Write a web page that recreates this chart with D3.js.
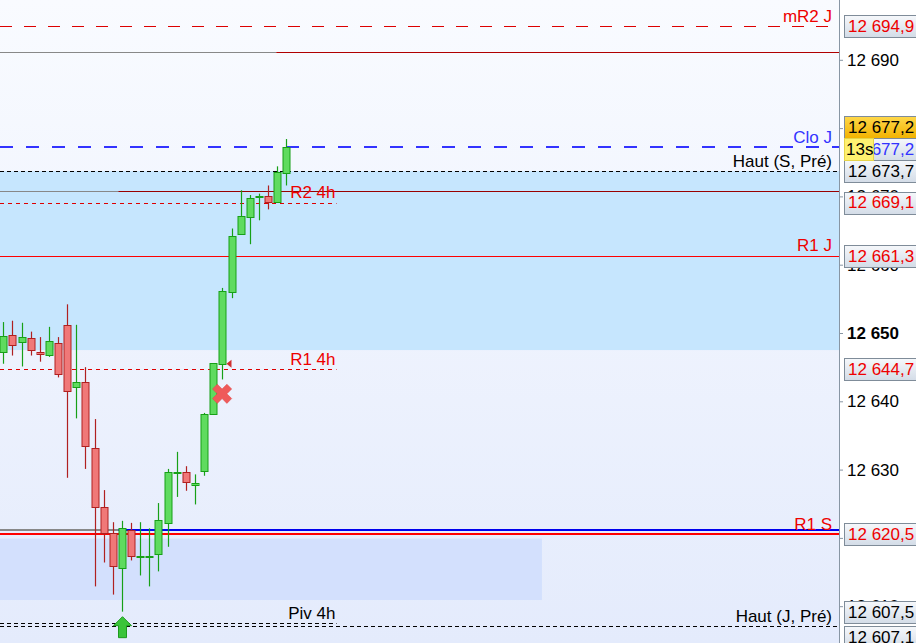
<!DOCTYPE html>
<html>
<head>
<meta charset="utf-8">
<script src="https://cdn.jsdelivr.net/npm/d3@7"></script>
<style>
  body { margin: 0; background: #fff; }
  svg text { font-family: "Liberation Sans", Arial, sans-serif; }
</style>
</head>
<body>
<div id="container"></div>
<script>

// candle data (oldest -> newest)
const opens  = [12647.2, 12649.7, 12648.6, 12649.2, 12647.2, 12646.9, 12648.6, 12651.1, 12642.0, 12642.8, 12633.1, 12624.5, 12620.7, 12615.7, 12621.2, 12617.2,
                12617.3, 12617.6, 12622.2, 12629.5, 12629.6, 12627.8, 12629.7, 12638.1, 12645.4, 12656.0, 12664.5, 12666.9, 12669.8, 12670.0, 12669.1, 12673.4];
const highs  = [12651.6, 12651.8, 12651.5, 12650.2, 12649.4, 12650.9, 12649.4, 12654.2, 12651.2, 12645.0, 12637.4, 12627.0, 12622.3, 12622.5, 12622.2, 12622.3,
                12621.4, 12625.1, 12630.1, 12632.6, 12630.5, 12629.3, 12638.3, 12645.6, 12656.6, 12665.3, 12670.9, 12670.2, 12670.4, 12671.6, 12674.4, 12678.4];
const lows   = [12645.5, 12646.7, 12645.1, 12646.7, 12645.8, 12646.5, 12643.5, 12628.8, 12637.5, 12630.1, 12612.9, 12616.4, 12611.7, 12609.2, 12616.7, 12614.5,
                12612.9, 12615.1, 12618.7, 12626.0, 12626.9, 12624.9, 12629.1, 12638.0, 12643.2, 12655.1, 12664.5, 12663.0, 12666.5, 12668.1, 12669.1, 12671.6];
const closes = [12649.5, 12648.3, 12649.4, 12647.5, 12646.9, 12648.9, 12644.0, 12641.5, 12642.8, 12633.4, 12624.5, 12620.7, 12615.8, 12621.5, 12617.4, 12617.4,
                12617.4, 12622.6, 12629.6, 12629.7, 12628.1, 12628.1, 12638.1, 12645.6, 12656.1, 12664.2, 12667.1, 12669.7, 12670.0, 12669.1, 12673.5, 12677.2];

// horizontal levels
const levelNames  = ["mR2 J", "", "Clo J", "Haut (S, Pré)", "", "R2 4h", "R1 J", "R1 4h", "", "R1 S", "Piv 4h", "Haut (J, Pré)"];
const levelValues = [12694.9, 12691.1, 12677.2, 12673.7, 12670.8, 12669.1, 12661.3, 12644.7, 12621.2, 12620.5, 12607.5, 12607.1];
// bar index where a level changes colour / ends (null = whole chart)
const levelSwitch = [null, 29.9, null, null, 12.6, null, null, null, 12.6, null, null, null];
const levelEnd    = [null, null, null, null, null, 36.5, null, 36.5, null, null, 36.5, null];

// zones
const zoneTops    = [12673.7, 12619.9];
const zoneBottoms = [12647.5, 12610.9];
const zoneEnds    = [null, 59];

// price axis
const tickValues = [12610, 12620, 12630, 12640, 12650, 12660, 12670, 12680, 12690];
const boxValues  = [12694.9, 12677.2, 12677.2, 12673.7, 12669.1, 12661.3, 12644.7, 12620.5, 12607.5, 12607.1];
const countdown  = "13s";

const W = 916, H = 643, plotW = 839;

const svg = d3.select("#container").append("svg")
  .attr("width", W)
  .attr("height", H);

const defs = svg.append("defs");
const bg = defs.append("linearGradient").attr("id", "bg").attr("x1", 0).attr("y1", 0).attr("x2", 0).attr("y2", 1);
bg.append("stop").attr("offset", "0%").attr("stop-color", "#f9fbff");
bg.append("stop").attr("offset", "100%").attr("stop-color", "#e4ebfc");
const boxGrad = defs.append("linearGradient").attr("id", "boxg").attr("x1", 0).attr("y1", 0).attr("x2", 0).attr("y2", 1);
boxGrad.append("stop").attr("offset", "0%").attr("stop-color", "#f6f8fb");
boxGrad.append("stop").attr("offset", "100%").attr("stop-color", "#d3dce7");
const goldGrad = defs.append("linearGradient").attr("id", "gold").attr("x1", 0).attr("y1", 0).attr("x2", 0).attr("y2", 1);
goldGrad.append("stop").attr("offset", "0%").attr("stop-color", "#ffd84a");
goldGrad.append("stop").attr("offset", "100%").attr("stop-color", "#f2b200");
defs.append("clipPath").attr("id", "plotclip")
  .append("rect").attr("width", plotW).attr("height", H);

// scales
const y = d3.scaleLinear().domain([12600, 12700]).range([674.5, -8.5]);
const x = d3.scaleLinear().domain([0, 31]).range([3.3, 286.3]);

const loc = d3.formatLocale({decimal: ",", thousands: " ", grouping: [3], currency: ["", ""]});
const fmtTick = loc.format(",d");
const fmtBox = loc.format(",.1f");

// backgrounds
svg.append("rect").attr("width", plotW).attr("height", H).attr("fill", "url(#bg)");
svg.append("rect").attr("x", plotW).attr("width", W - plotW).attr("height", H).attr("fill", "#fff");

const plot = svg.append("g").attr("clip-path", "url(#plotclip)");

const zoneColors = ["#c6e6fe", "#d3e0fd"];
plot.selectAll(".zone")
  .data(zoneTops)
  .enter()
  .append("rect")
  .attr("class", "zone")
  .attr("x", 0)
  .attr("y", d => y(d))
  .attr("width", (d, i) => zoneEnds[i] === null ? plotW : x(zoneEnds[i]))
  .attr("height", (d, i) => y(zoneBottoms[i]) - y(d))
  .attr("fill", (d, i) => zoneColors[i]);

// level lines
const levelStyle = [
  {color: "#dd0000", dash: "12,12", w: 1},
  {color: "#b00000", pre: "#888888", w: 1},
  {color: "#3333ff", dash: "13,13", w: 2},
  {color: "#000000", dash: "4,3", w: 1},
  {color: "#990000", pre: "#888888", w: 1},
  {color: "#dd0000", dash: "4,4", w: 1},
  {color: "#ff0000", w: 1},
  {color: "#dd0000", dash: "4,4", w: 1},
  {color: "#0000ee", pre: "#888888", w: 2},
  {color: "#ff0000", w: 2},
  {color: "#000000", dash: "4,3", w: 1},
  {color: "#000000", dash: "4,3", w: 1}
];

levelValues.forEach((v, i) => {
  const st = levelStyle[i];
  const yy = Math.round(y(v)) + (st.w === 1 ? 0.5 : 0);
  const xEnd = levelEnd[i] === null ? plotW : x(levelEnd[i]);
  let xStart = 0;
  if (levelSwitch[i] !== null) {
    xStart = x(levelSwitch[i]);
    plot.append("line")
      .attr("x1", 0).attr("x2", xStart)
      .attr("y1", yy).attr("y2", yy)
      .attr("stroke", st.pre)
      .attr("stroke-width", st.w);
  }
  plot.append("line")
    .attr("x1", xStart).attr("x2", xEnd)
    .attr("y1", yy).attr("y2", yy)
    .attr("stroke", st.color)
    .attr("stroke-width", st.w)
    .attr("stroke-dasharray", st.dash || null);
});

// candles
const candles = d3.range(opens.length).map(i => ({i, o: opens[i], h: highs[i], l: lows[i], c: closes[i]}));
const up = d => d.c >= d.o;

const cg = plot.selectAll(".candle")
  .data(candles)
  .enter()
  .append("g")
  .attr("class", "candle");

cg.append("line")
  .attr("x1", d => Math.round(x(d.i)) + 0.5)
  .attr("x2", d => Math.round(x(d.i)) + 0.5)
  .attr("y1", d => y(d.h))
  .attr("y2", d => y(d.l))
  .attr("stroke", d => up(d) ? "#17a017" : "#b02020")
  .attr("stroke-width", 1.2);

cg.append("rect")
  .attr("x", d => Math.round(x(d.i)) - 3)
  .attr("y", d => Math.round(y(Math.max(d.o, d.c))) + 0.5)
  .attr("width", 7)
  .attr("height", d => Math.max(1, Math.round(y(Math.min(d.o, d.c)) - y(Math.max(d.o, d.c)))))
  .attr("fill", d => up(d) ? "#5fdb5f" : "#f07878")
  .attr("stroke", d => up(d) ? "#17a017" : "#b02020")
  .attr("stroke-width", 1);

// markers
const ax = Math.round(x(13)) + 0.5, ay = y(lows[13]) + 5;
plot.append("path")
  .attr("d", `M${ax},${ay} L${ax + 9},${ay + 9} L${ax + 4},${ay + 9} L${ax + 4},${ay + 21} L${ax - 4},${ay + 21} L${ax - 4},${ay + 9} L${ax - 9},${ay + 9} Z`)
  .attr("fill", "#3ac43a")
  .attr("stroke", "#1d9a1d")
  .attr("stroke-width", 1);

const mx = x(24) - 0.3, my = y(12641.1);
plot.append("path")
  .attr("d", d3.symbol().type(d3.symbolCross).size(230))
  .attr("transform", `translate(${mx},${my}) rotate(45)`)
  .attr("fill", "#ef5a5a")
  .attr("stroke", "#e04848")
  .attr("stroke-width", 0.5);

const tx = x(24.45), ty = y(12645.5);
plot.append("path")
  .attr("d", `M${tx},${ty} L${tx + 5},${ty - 4} L${tx + 5},${ty + 4} Z`)
  .attr("fill", "#d03030");

// level labels
const labelColor = ["#ee0000", null, "#3333ff", "#000000", null, "#ee0000", "#ee0000", "#ee0000", null, "#ee0000", "#000000", "#000000"];
levelValues.forEach((v, i) => {
  if (!levelNames[i]) return;
  const endsEarly = levelEnd[i] !== null;
  svg.append("text")
    .attr("x", endsEarly ? x(levelEnd[i]) - 1 : 832)
    .attr("y", y(v) - 4.5)
    .attr("text-anchor", "end")
    .style("font-size", "17px")
    .style("fill", labelColor[i])
    .text(levelNames[i]);
});

// price axis
const axis = svg.append("g")
  .attr("transform", `translate(${plotW},0)`)
  .call(d3.axisRight(y).tickValues(tickValues).tickSize(4).tickSizeOuter(0).tickPadding(4).tickFormat(fmtTick));
axis.select(".domain").attr("stroke", "#8896a4").attr("d", `M0.5,0V${H}`);
axis.selectAll(".tick line").attr("stroke", "#8896a4");
axis.selectAll(".tick text")
  .style("font-size", "17px")
  .style("fill", "#000")
  .style("font-weight", d => d % 50 === 0 ? "bold" : "normal");

// value boxes on the axis
const boxText = ["#ee0000", "#000000", "#3333ff", "#000000", "#ee0000", "#ee0000", "#ee0000", "#ee0000", "#000000", "#000000"];
const boxFill = ["url(#boxg)", "url(#gold)", "url(#boxg)", "url(#boxg)", "url(#boxg)", "url(#boxg)", "url(#boxg)", "url(#boxg)", "url(#boxg)", "url(#boxg)"];
const boxShift = [0, -20, 2, 0, 0, 0, 0, 0, -11, 11];

boxValues.forEach((v, i) => {
  const cy = y(v) + boxShift[i];
  svg.append("rect")
    .attr("x", 844.5)
    .attr("y", Math.round(cy - 11) + 0.5)
    .attr("width", 80)
    .attr("height", 22)
    .attr("fill", boxFill[i])
    .attr("stroke", "#7f8c99");
  svg.append("text")
    .attr("x", 848)
    .attr("y", cy)
    .attr("dy", "0.35em")
    .style("font-size", "17px")
    .style("fill", boxText[i])
    .text(fmtBox(v));
});

// countdown box
const cdY = y(boxValues[2]) + boxShift[2];
svg.append("rect")
  .attr("x", 844.5)
  .attr("y", Math.round(cdY - 11) + 0.5)
  .attr("width", 29)
  .attr("height", 22)
  .attr("fill", "#fff170")
  .attr("stroke", "#e6d44a");
svg.append("text")
  .attr("x", 846)
  .attr("y", cdY)
  .attr("dy", "0.35em")
  .style("font-size", "17px")
  .style("fill", "#000")
  .text(countdown);

</script>
</body>
</html>
